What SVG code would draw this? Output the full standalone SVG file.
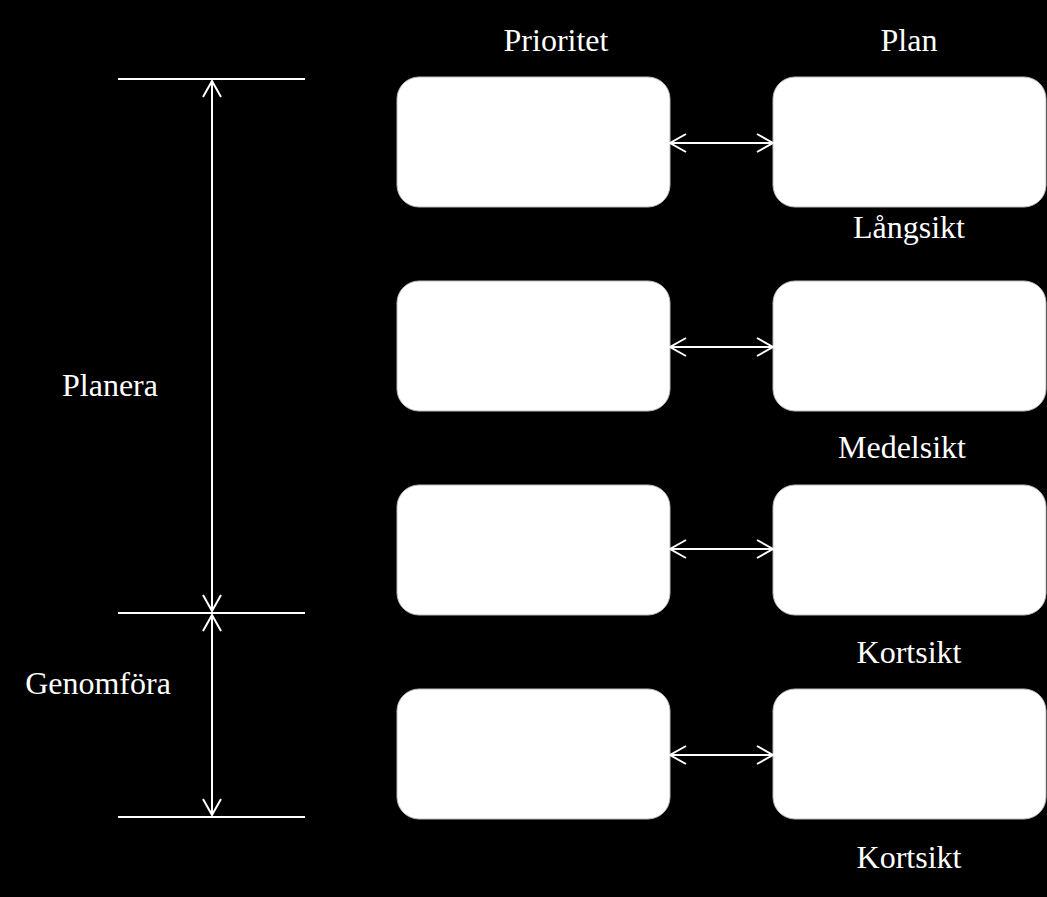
<svg xmlns="http://www.w3.org/2000/svg" width="1047" height="897" viewBox="0 0 1047 897">
<defs>
<style>
.box{fill:#ffffff;stroke:#bbbbbb;stroke-width:1}
.ln{stroke:#ffffff;stroke-width:2;fill:none}
.lbl{font-family:"Liberation Serif","DejaVu Serif",serif;font-size:32px;fill:#ffffff}
</style>
<marker id="ah" viewBox="0 0 20 20" refX="18" refY="10" markerWidth="20" markerHeight="20" markerUnits="userSpaceOnUse" orient="auto-start-reverse">
<path d="M2,1 L18,10 L2,19" fill="none" stroke="#ffffff" stroke-width="2"/>
</marker>
</defs>
<rect width="1047" height="897" fill="#000000"/>
<g id="labels">
<text class="lbl" x="556" y="51" text-anchor="middle">Prioritet</text>
<text class="lbl" x="909" y="51" text-anchor="middle">Plan</text>
<text class="lbl" x="909" y="238" text-anchor="middle">Långsikt</text>
<text class="lbl" x="902" y="458" text-anchor="middle">Medelsikt</text>
<text class="lbl" x="909" y="663" text-anchor="middle">Kortsikt</text>
<text class="lbl" x="909" y="868" text-anchor="middle">Kortsikt</text>
<text class="lbl" x="110" y="396" text-anchor="middle">Planera</text>
<text class="lbl" x="98" y="694" text-anchor="middle">Genomföra</text>
</g>
<g id="p1"><rect class="box" x="397" y="77" width="273" height="130" rx="22"/></g>
<g id="r1"><rect class="box" x="773" y="77" width="273" height="130" rx="22"/></g>
<g id="p2"><rect class="box" x="397" y="281" width="273" height="130" rx="22"/></g>
<g id="r2"><rect class="box" x="773" y="281" width="273" height="130" rx="22"/></g>
<g id="p3"><rect class="box" x="397" y="485" width="273" height="130" rx="22"/></g>
<g id="r3"><rect class="box" x="773" y="485" width="273" height="130" rx="22"/></g>
<g id="p4"><rect class="box" x="397" y="689" width="273" height="130" rx="22"/></g>
<g id="r4"><rect class="box" x="773" y="689" width="273" height="130" rx="22"/></g>
<g id="connectors">
<line class="ln" x1="118" y1="79" x2="305" y2="79"/>
<line class="ln" x1="118" y1="613" x2="305" y2="613"/>
<line class="ln" x1="118" y1="817" x2="305" y2="817"/>
<line class="ln" x1="212" y1="81" x2="212" y2="611" marker-start="url(#ah)" marker-end="url(#ah)"/>
<line class="ln" x1="212" y1="615" x2="212" y2="815" marker-start="url(#ah)" marker-end="url(#ah)"/>
<line class="ln" x1="670" y1="143" x2="773" y2="143" marker-start="url(#ah)" marker-end="url(#ah)"/>
<line class="ln" x1="670" y1="347" x2="773" y2="347" marker-start="url(#ah)" marker-end="url(#ah)"/>
<line class="ln" x1="670" y1="549" x2="773" y2="549" marker-start="url(#ah)" marker-end="url(#ah)"/>
<line class="ln" x1="670" y1="755" x2="773" y2="755" marker-start="url(#ah)" marker-end="url(#ah)"/>
</g>
</svg>
